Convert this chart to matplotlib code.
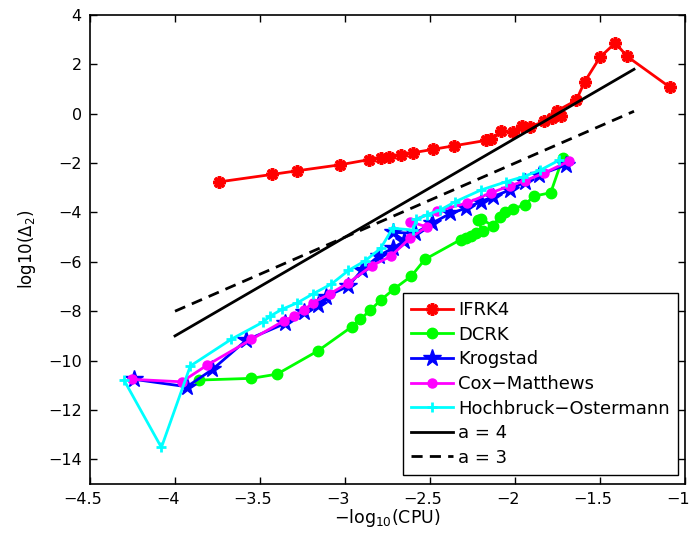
import matplotlib
matplotlib.use("Agg")
import matplotlib.pyplot as plt
import matplotlib.transforms as mtransforms
import numpy as np

plt.rcParams['font.family'] = ['DejaVu Sans']
plt.rcParams['mathtext.fontset'] = 'dejavusans'

ifrk4_x = [-3.74, -3.43, -3.28, -3.03, -2.86, -2.79, -2.74, -2.67, -2.60, -2.48, -2.36, -2.17,
           -2.14, -2.08, -2.01, -1.96, -1.91, -1.83, -1.78, -1.73, -1.75, -1.64, -1.59, -1.50,
           -1.41, -1.34, -1.09]
ifrk4_y = [-2.76, -2.46, -2.31, -2.07, -1.86, -1.79, -1.74, -1.67, -1.58, -1.44, -1.30, -1.08,
           -1.04, -0.69, -0.76, -0.49, -0.53, -0.31, -0.17, -0.08, 0.13, 0.54, 1.30, 2.29,
           2.87, 2.32, 1.08]

dcrk_x = [-3.86, -3.55, -3.40, -3.16, -2.96, -2.91, -2.85, -2.79, -2.71, -2.61, -2.53, -2.32,
          -2.29, -2.26, -2.23, -2.19, -2.22, -2.20, -2.13, -2.09, -2.06, -2.01, -1.94, -1.89,
          -1.79, -1.72]
dcrk_y = [-10.79, -10.72, -10.55, -9.61, -8.63, -8.33, -7.95, -7.55, -7.09, -6.58, -5.90, -5.10,
          -5.02, -4.95, -4.85, -4.75, -4.30, -4.25, -4.55, -4.17, -3.99, -3.85, -3.68, -3.34,
          -3.20, -1.81]

krog_x = [-4.24, -3.93, -3.78, -3.58, -3.35, -3.24, -3.16, -3.11, -2.98, -2.90, -2.80, -2.72,
          -2.65, -2.72, -2.59, -2.49, -2.38, -2.29, -2.20, -2.13, -2.03, -1.94, -1.86, -1.70]
krog_y = [-10.76, -11.06, -10.36, -9.17, -8.49, -8.02, -7.75, -7.41, -6.98, -6.33, -5.75, -5.45,
          -5.15, -4.80, -4.85, -4.44, -4.04, -3.83, -3.56, -3.36, -3.09, -2.75, -2.48, -2.08]

cox_x = [-4.25, -3.96, -3.81, -3.55, -3.36, -3.30, -3.24, -3.19, -3.09, -2.98, -2.84, -2.73,
         -2.62, -2.52, -2.62, -2.46, -2.28, -2.14, -2.03, -1.94, -1.83, -1.68]
cox_y = [-10.76, -10.86, -10.18, -9.14, -8.39, -8.20, -7.95, -7.66, -7.30, -6.85, -6.15, -5.77,
         -5.05, -4.58, -4.37, -3.95, -3.61, -3.20, -2.92, -2.71, -2.41, -1.91]

ho_x = [-4.30, -4.08, -3.91, -3.67, -3.48, -3.44, -3.37, -3.28, -3.19, -3.08, -2.98, -2.88,
        -2.79, -2.72, -2.60, -2.58, -2.52, -2.44, -2.35, -2.20, -2.05, -1.95, -1.85, -1.74]
ho_y = [-10.79, -13.52, -10.22, -9.14, -8.43, -8.20, -7.92, -7.66, -7.30, -6.90, -6.35, -5.95,
        -5.45, -4.64, -4.71, -4.28, -4.10, -3.90, -3.56, -3.09, -2.75, -2.55, -2.28, -1.88]

ref_x = [-4.0, -1.3]
a4_y = [-9.0, 1.8]
a3_y = [-8.0, 0.1]

xticks = [-4.5, -4, -3.5, -3, -2.5, -2, -1.5, -1]
xticklabels = ['\u22124.5', '\u22124', '\u22123.5', '\u22123', '\u22122.5', '\u22122', '\u22121.5', '\u22121']
yticks = [-14, -12, -10, -8, -6, -4, -2, 0, 2, 4]

fig = plt.figure(figsize=(6.92, 5.38), dpi=100)
ax = fig.add_axes([90/692, 1 - 484/538, (685 - 90)/692, (484 - 15)/538])

lw = 2.0
ax.plot(ifrk4_x, ifrk4_y, color='#ff0000', lw=lw, marker=(8, 2, 0), ms=9, mew=2.5,
        mec='#ff0000', label='IFRK4')
ax.plot(dcrk_x, dcrk_y, color='#00ff00', lw=lw, marker='o', ms=7.5, mfc='#00ff00',
        mec='#00ff00', label='DCRK')
ax.plot(krog_x, krog_y, color='#0000ff', lw=lw, marker='*', ms=13, mfc='#0000ff',
        mec='#0000ff', label='Krogstad')
ax.plot(cox_x, cox_y, color='#ff00ff', lw=lw, marker='o', ms=6.5, mfc='#ff00ff',
        mec='#ff00ff', label='Cox\u2212Matthews')
ax.plot(ho_x, ho_y, color='#00ffff', lw=lw, marker='+', ms=7, mew=2,
        mec='#00ffff', label='Hochbruck\u2212Ostermann')
ax.plot(ref_x, a4_y, color='black', lw=lw, label='a = 4')
ax.plot(ref_x, a3_y, color='black', lw=lw, ls=(0, (4, 2.6)), label='a = 3')

ax.set_xlim(-4.5, -1)
ax.set_ylim(-15, 4)
ax.set_xticks(xticks)
ax.set_xticklabels(xticklabels)
ax.set_yticks(yticks)
ax.set_yticklabels(['\u2212' + str(-v) if v < 0 else str(v) for v in yticks])
ax.tick_params(direction='in', length=5, width=1, labelsize=11.5, top=True, right=True, pad=6)
for s in ax.spines.values():
    s.set_linewidth(1.2)

shift = mtransforms.ScaledTranslation(-7/100, 0, fig.dpi_scale_trans)
for lab in ax.get_xticklabels():
    lab.set_transform(lab.get_transform() + shift)

ax.set_xlabel('$\\mathregular{-log_{10}}$(CPU)', fontsize=12.5, labelpad=0)
ax.set_ylabel('log10($\\mathregular{\\Delta_2}$)', fontsize=12, labelpad=7)

leg = ax.legend(loc='lower right', bbox_to_anchor=(0.9877, 0.0192), borderaxespad=0,
                fontsize=13, frameon=True, fancybox=False, handlelength=2.31,
                handletextpad=0.28, labelspacing=0.365, borderpad=0.46)
leg.get_frame().set_edgecolor('black')
leg.get_frame().set_linewidth(1.0)
leg.get_frame().set_alpha(1)

fig.savefig('out.png', dpi=100)
